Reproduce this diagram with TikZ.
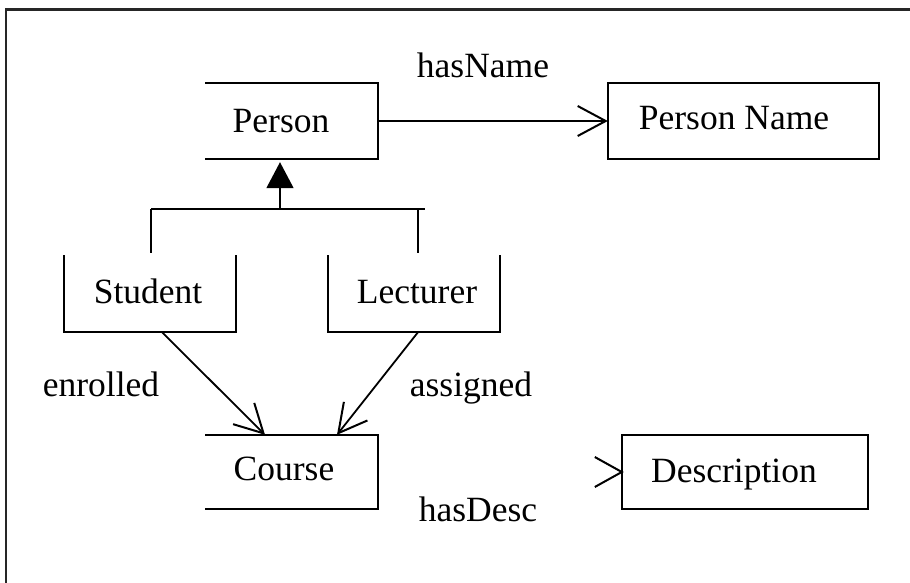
\documentclass[tikz,border=0pt]{standalone}
\usepackage{fontspec}
\setmainfont{Liberation Serif}
\usetikzlibrary{arrows.meta}
\begin{document}
\begin{tikzpicture}[x=1pt,y=-1pt,
  boxshape/.style={draw=none,rectangle,inner sep=0pt,minimum width=#1},
  side/.style={line width=2.2pt,line cap=rect},
  lbl/.style={anchor=base,inner sep=0pt,font=\fontsize{35.5}{40}\selectfont},
  arr/.style={line width=1.8pt,-{Straight Barb[length=28pt,width=30pt,line width=2pt]}},
  inherit/.style={line width=1.8pt}
]
\useasboundingbox (0,0) rectangle (910,583);

% outer frame (only the top and left edges are inside the picture)
\draw[line width=2.6pt,black!85] (6,583) -- (6,9.5) -- (910,9.5);

% class boxes
\node[boxshape=172pt,minimum height=76pt] (person) at (292,121) {};
\node[boxshape=271pt,minimum height=76pt] (pname) at (743.5,121) {};
\node[boxshape=172pt,minimum height=76pt] (student) at (150,294) {};
\node[boxshape=172pt,minimum height=76pt] (lecturer) at (414,294) {};
\node[boxshape=172pt,minimum height=74pt] (course) at (292,472) {};
\node[boxshape=246pt,minimum height=74pt] (desc) at (745,472) {};

% partially drawn outlines
\draw[side] (person.north west) -- (person.north east) -- (person.south east) -- (person.south west);
\draw[side] (pname.north west) rectangle (pname.south east);
\draw[side] (student.north west) -- (student.south west) -- (student.south east) -- (student.north east);
\draw[side] (lecturer.north west) -- (lecturer.south west) -- (lecturer.south east) -- (lecturer.north east);
\draw[side] (course.north west) -- (course.north east) -- (course.south east) -- (course.south west);
\draw[side] (desc.north west) rectangle (desc.south east);

% texts
\node[lbl] (personT) at (281,132) {Person};
\node[lbl] (pnameT) at (734,130) {Person Name};
\node[lbl] (studentT) at (148,303) {Student};
\node[lbl] (lecturerT) at (417,303) {Lecturer};
\node[lbl] (courseT) at (284,480) {Course};
\node[lbl] (descT) at (734,482) {Description};
\node[lbl] (hasName) at (483,78) {hasName};
\node[lbl] (enrolled) at (101,396) {enrolled};
\node[lbl] (assigned) at (471,396) {assigned};
\node[lbl] (hasDesc) at (478,521) {hasDesc};

% generalisation tree
\coordinate (hl) at (151,209);
\coordinate (hr) at (425,209);
\coordinate (jn) at (280,209);
\coordinate (sTop) at (151,253);
\coordinate (lTop) at (418,253);
\draw[inherit] (hl) -- (hr);
\draw[inherit] (hl) -- (sTop);
\draw[inherit] (lTop |- hl) -- (lTop);
\draw[inherit,-{Triangle[length=26pt,width=27pt]},shorten >=3pt] (jn) -- (jn |- person.south);

% associations
\draw[arr] (person.east) -- (pname.west);
\draw[arr] ([xshift=12pt]student.south) -- ([xshift=-27pt]course.north);
\draw[arr] ([xshift=4pt]lecturer.south) -- ([xshift=45pt]course.north);
\draw[line width=2pt] ([shift={(-27pt,-15pt)}]desc.west) -- (desc.west) -- ([shift={(-27pt,15pt)}]desc.west);
\end{tikzpicture}
\end{document}
